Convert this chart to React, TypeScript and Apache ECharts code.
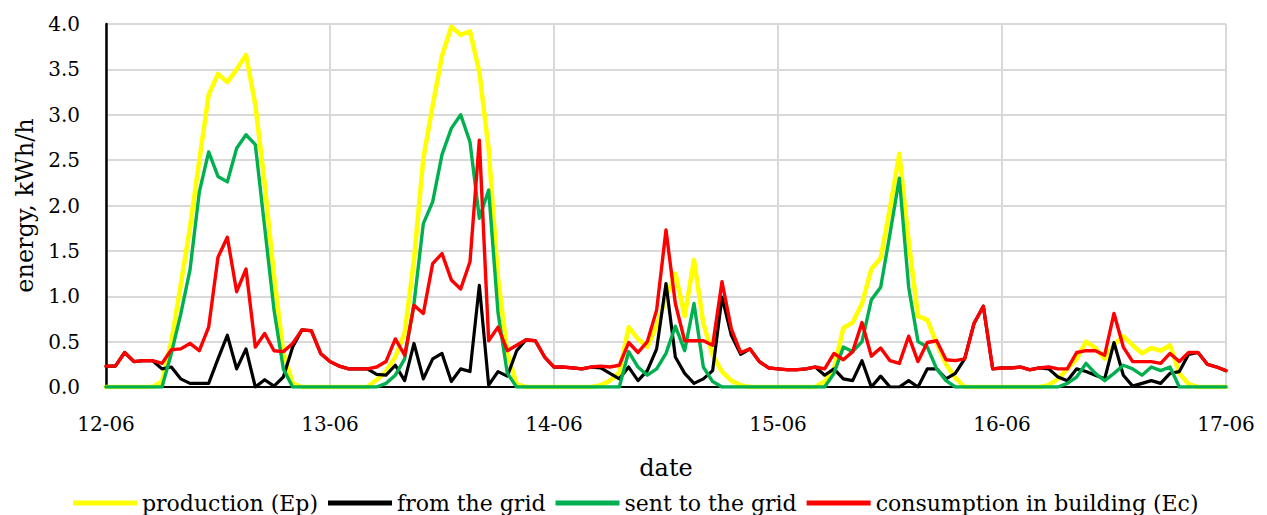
import React, { useEffect, useRef } from "react";
import * as echarts from "echarts";

// tick labels for the x axis (one per day, every 24 hourly points)
const dayLabels = ["12-06", "13-06", "14-06", "15-06", "16-06", "17-06"];
const yTicks = [0, 0.5, 1, 1.5, 2, 2.5, 3, 3.5, 4];

// hourly values, 12-06 00:00 .. 17-06 00:00
const production = [
  0, 0, 0, 0, 0, 0, 0.06, 0.5, 1.12, 1.76, 2.5, 3.22, 3.45, 3.36, 3.5, 3.66, 3.11, 2.24, 1.22, 0.38, 0.04, 0, 0, 0,
  0, 0, 0, 0, 0, 0.08, 0.17, 0.33, 0.6, 1.4, 2.52, 3.1, 3.65, 3.97, 3.88, 3.92, 3.47, 2.62, 1.2, 0.38, 0.03, 0, 0, 0,
  0, 0, 0, 0, 0, 0.02, 0.07, 0.16, 0.66, 0.53, 0.44, 0.68, 0.98, 1.25, 0.78, 1.4, 0.7, 0.35, 0.17, 0.07, 0.02, 0, 0, 0,
  0, 0, 0, 0, 0, 0.06, 0.2, 0.65, 0.71, 0.92, 1.3, 1.42, 1.97, 2.57, 1.6, 0.78, 0.74, 0.48, 0.25, 0.1, 0, 0, 0, 0,
  0, 0, 0, 0, 0, 0.02, 0.09, 0.2, 0.31, 0.5, 0.43, 0.31, 0.47, 0.56, 0.46, 0.37, 0.43, 0.4, 0.46, 0.15, 0.03, 0, 0, 0,
  0,
];
const fromGrid = [
  0.23, 0.23, 0.38, 0.28, 0.29, 0.29, 0.2, 0.22, 0.09, 0.04, 0.04, 0.04, 0.31, 0.57, 0.2, 0.42, 0, 0.08, 0.01, 0.11, 0.44, 0.63, 0.62, 0.37,
  0.28, 0.23, 0.2, 0.2, 0.2, 0.14, 0.13, 0.24, 0.07, 0.48, 0.09, 0.31, 0.37, 0.06, 0.2, 0.17, 1.12, 0.02, 0.17, 0.12, 0.4, 0.52, 0.51, 0.33,
  0.22, 0.22, 0.21, 0.2, 0.22, 0.21, 0.15, 0.09, 0.22, 0.07, 0.18, 0.42, 1.14, 0.33, 0.15, 0.04, 0.09, 0.18, 0.99, 0.57, 0.36, 0.42, 0.28, 0.21,
  0.2, 0.19, 0.19, 0.2, 0.22, 0.13, 0.2, 0.09, 0.07, 0.29, 0, 0.12, 0, 0, 0.07, 0, 0.2, 0.2, 0.09, 0.15, 0.31, 0.7, 0.89, 0.2,
  0.21, 0.21, 0.22, 0.19, 0.21, 0.2, 0.11, 0.07, 0.2, 0.17, 0.13, 0.09, 0.49, 0.13, 0.01, 0.04, 0.07, 0.04, 0.15, 0.17, 0.36, 0.38, 0.25, 0.22,
  0.18,
];
const sentToGrid = [
  0, 0, 0, 0, 0, 0, 0, 0.37, 0.8, 1.29, 2.15, 2.59, 2.32, 2.26, 2.63, 2.78, 2.67, 1.76, 0.85, 0.2, 0, 0, 0, 0,
  0, 0, 0, 0, 0, 0, 0.04, 0.13, 0.31, 0.92, 1.8, 2.04, 2.56, 2.85, 3.0, 2.7, 1.86, 2.17, 0.82, 0.15, 0, 0, 0, 0,
  0, 0, 0, 0, 0, 0, 0, 0, 0.39, 0.22, 0.13, 0.2, 0.37, 0.67, 0.4, 0.92, 0.22, 0.06, 0, 0, 0, 0, 0, 0,
  0, 0, 0, 0, 0, 0, 0.15, 0.44, 0.39, 0.5, 0.96, 1.1, 1.69, 2.3, 1.1, 0.5, 0.44, 0.2, 0.07, 0, 0, 0, 0, 0,
  0, 0, 0, 0, 0, 0, 0, 0.04, 0.11, 0.26, 0.15, 0.07, 0.15, 0.24, 0.2, 0.13, 0.22, 0.18, 0.22, 0, 0, 0, 0, 0,
  0,
];
const consumption = [
  0.23, 0.23, 0.38, 0.28, 0.29, 0.29, 0.26, 0.41, 0.42, 0.48, 0.4, 0.66, 1.43, 1.65, 1.05, 1.3, 0.44, 0.59, 0.4, 0.39, 0.48, 0.63, 0.62, 0.37,
  0.28, 0.23, 0.2, 0.2, 0.2, 0.22, 0.28, 0.53, 0.35, 0.9, 0.81, 1.36, 1.47, 1.18, 1.08, 1.38, 2.72, 0.51, 0.66, 0.4, 0.46, 0.52, 0.51, 0.33,
  0.22, 0.22, 0.21, 0.2, 0.22, 0.23, 0.22, 0.24, 0.49, 0.38, 0.5, 0.85, 1.73, 0.92, 0.51, 0.51, 0.51, 0.46, 1.16, 0.64, 0.38, 0.42, 0.28, 0.21,
  0.2, 0.19, 0.19, 0.2, 0.22, 0.2, 0.37, 0.3, 0.39, 0.71, 0.34, 0.43, 0.29, 0.26, 0.56, 0.28, 0.49, 0.51, 0.3, 0.29, 0.31, 0.7, 0.89, 0.2,
  0.21, 0.21, 0.22, 0.19, 0.21, 0.22, 0.2, 0.2, 0.38, 0.4, 0.4, 0.35, 0.81, 0.44, 0.28, 0.28, 0.28, 0.26, 0.37, 0.28, 0.38, 0.38, 0.25, 0.22,
  0.18,
];

const seriesNames = ["production (Ep)", "from the grid", "sent to the grid", "consumption in building (Ec)"];
const seriesValues = [production, fromGrid, sentToGrid, consumption];
const seriesColors = ["#FFFF00", "#000000", "#00B050", "#FF0000"];
const seriesWidths = [4.5, 3.2, 3.4, 3.4];

const FONT = "DejaVu Serif";

export default function App() {
  const ref = useRef<HTMLDivElement>(null);
  useEffect(() => {
    if (!ref.current) return;
    const chart = echarts.init(ref.current, undefined, { renderer: "svg" });
    const hoursPerDay = 24;
    chart.setOption({
      animation: false,
      backgroundColor: "#ffffff",
      textStyle: { fontFamily: FONT },
      grid: { left: 106, top: 24, width: 1120, height: 363 },
      legend: {
        left: 68,
        top: 487,
        itemWidth: 64,
        itemHeight: 5,
        itemGap: 10,
        icon: "rect",
        data: seriesNames.map((n, i) => ({ name: n, itemStyle: { color: seriesColors[i] } })),
        textStyle: { fontFamily: FONT, fontSize: 22, color: "#000" },
        selectedMode: false,
      },
      xAxis: {
        type: "value",
        min: 0,
        max: (dayLabels.length - 1) * hoursPerDay,
        interval: hoursPerDay,
        name: "date",
        nameLocation: "middle",
        nameGap: 69,
        nameTextStyle: { fontFamily: FONT, fontSize: 24, color: "#000" },
        axisLine: { show: true, lineStyle: { color: "#000", width: 2 } },
        axisTick: { show: false },
        axisLabel: {
          margin: 27,
          fontFamily: FONT,
          fontSize: 20,
          color: "#000",
          formatter: (v: number) => dayLabels[Math.round(v / hoursPerDay)] ?? "",
        },
        splitLine: { show: true, lineStyle: { color: "#d9d9d9", width: 2 } },
      },
      yAxis: {
        type: "value",
        min: yTicks[0],
        max: yTicks[yTicks.length - 1],
        interval: yTicks[1] - yTicks[0],
        name: "energy, kWh/h",
        nameLocation: "middle",
        nameGap: 63,
        nameTextStyle: { fontFamily: FONT, fontSize: 24, color: "#000" },
        axisLine: { show: true, lineStyle: { color: "#000", width: 2.5 } },
        axisTick: { show: false },
        axisLabel: {
          margin: 26,
          fontFamily: FONT,
          fontSize: 20,
          color: "#000",
          formatter: (v: number) => v.toFixed(1),
        },
        splitLine: { show: true, lineStyle: { color: "#d9d9d9", width: 2 } },
      },
      series: seriesNames.map((name, si) => ({
        name,
        type: "line",
        symbol: "none",
        data: seriesValues[si].map((v, i) => [i, v]),
        lineStyle: { color: seriesColors[si], width: seriesWidths[si], join: "round", cap: "round" },
        itemStyle: { color: seriesColors[si] },
      })),
    });
    return () => chart.dispose();
  }, []);
  return (
    <div
      ref={ref}
      style={{ position: "fixed", left: 0, top: 0, width: 1267, height: 515, background: "#fff" }}
    />
  );
}
